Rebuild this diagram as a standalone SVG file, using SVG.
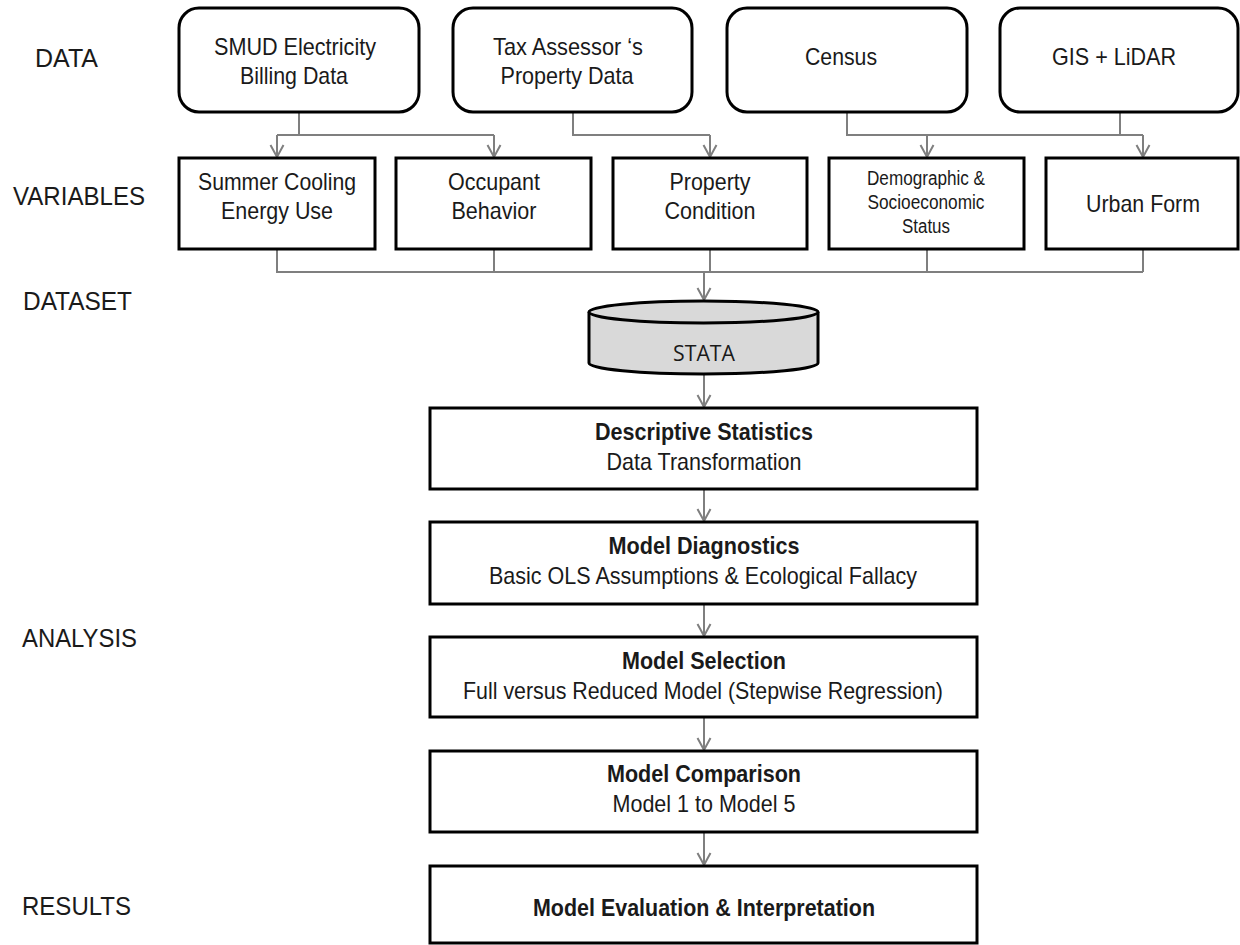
<svg xmlns="http://www.w3.org/2000/svg" width="1240" height="945" viewBox="0 0 1240 945">
<style>
text{font-family:"Liberation Sans",Arial,sans-serif;fill:#1a1a1a;}
.lbl{font-size:26.5px;}
.t{font-size:24px;text-anchor:middle;}
.s{font-size:19.5px;text-anchor:middle;}
.b{font-size:24px;font-weight:bold;text-anchor:middle;}
.rbox{fill:#fff;stroke:#000;stroke-width:3;}
.box{fill:#fff;stroke:#000;stroke-width:3;}
.cn{fill:none;stroke:#7f7f7f;stroke-width:2;}
</style>
<defs>
<marker id="arr" markerUnits="userSpaceOnUse" viewBox="-13 -8 15 16" refX="0" refY="0" markerWidth="15" markerHeight="16" orient="auto">
<path d="M-12,-6.5 L0,0 L-12,6.5" fill="none" stroke="#7f7f7f" stroke-width="2"/>
</marker>
</defs>
<rect width="1240" height="945" fill="#fff"/>
<g id="labels">
<text class="lbl" x="35" y="67" textLength="63" lengthAdjust="spacingAndGlyphs">DATA</text>
<text class="lbl" x="13" y="205" textLength="132" lengthAdjust="spacingAndGlyphs">VARIABLES</text>
<text class="lbl" x="23" y="310" textLength="109" lengthAdjust="spacingAndGlyphs">DATASET</text>
<text class="lbl" x="22" y="647" textLength="115" lengthAdjust="spacingAndGlyphs">ANALYSIS</text>
<text class="lbl" x="22" y="915" textLength="109" lengthAdjust="spacingAndGlyphs">RESULTS</text>
</g>
<g id="connectors">
<path class="cn" d="M299,112 V135 M277,135 H494 M573,112 V135 H710 M847,112 V135 H1143 M1120,112 V135"/>
<path class="cn" d="M277,135 V157" marker-end="url(#arr)"/>
<path class="cn" d="M494,135 V157" marker-end="url(#arr)"/>
<path class="cn" d="M710,135 V157" marker-end="url(#arr)"/>
<path class="cn" d="M927,135 V157" marker-end="url(#arr)"/>
<path class="cn" d="M1143,135 V157" marker-end="url(#arr)"/>
<path class="cn" d="M277,250 V272 H1143 M494,250 V272 M710,250 V272 M927,250 V272 M1143,250 V272"/>
<path class="cn" d="M704,272 V300" marker-end="url(#arr)"/>
<path class="cn" d="M704,375 V407" marker-end="url(#arr)"/>
<path class="cn" d="M704,490 V521" marker-end="url(#arr)"/>
<path class="cn" d="M704,605 V636" marker-end="url(#arr)"/>
<path class="cn" d="M704,718 V750" marker-end="url(#arr)"/>
<path class="cn" d="M704,833 V865" marker-end="url(#arr)"/>
</g>
<g id="smud">
<rect class="rbox" x="179" y="8" width="240" height="104" rx="20"/>
<text class="t" x="295" y="55" textLength="162" lengthAdjust="spacingAndGlyphs">SMUD Electricity</text>
<text class="t" x="294" y="84" textLength="108" lengthAdjust="spacingAndGlyphs">Billing Data</text>
</g>
<g id="tax">
<rect class="rbox" x="453" y="8" width="239" height="104" rx="20"/>
<text class="t" x="568" y="55" textLength="150" lengthAdjust="spacingAndGlyphs">Tax Assessor ‘s</text>
<text class="t" x="567" y="84" textLength="133" lengthAdjust="spacingAndGlyphs">Property Data</text>
</g>
<g id="census">
<rect class="rbox" x="727" y="8" width="240" height="104" rx="20"/>
<text class="t" x="841" y="65" textLength="72" lengthAdjust="spacingAndGlyphs">Census</text>
</g>
<g id="gis">
<rect class="rbox" x="1000" y="8" width="238" height="104" rx="20"/>
<text class="t" x="1114" y="65" textLength="124" lengthAdjust="spacingAndGlyphs">GIS + LiDAR</text>
</g>
<g id="summer">
<rect class="box" x="179" y="158" width="196" height="91"/>
<text class="t" x="277" y="190" textLength="158" lengthAdjust="spacingAndGlyphs">Summer Cooling</text>
<text class="t" x="277" y="219" textLength="112" lengthAdjust="spacingAndGlyphs">Energy Use</text>
</g>
<g id="occupant">
<rect class="box" x="396" y="158" width="195" height="91"/>
<text class="t" x="494" y="190" textLength="92" lengthAdjust="spacingAndGlyphs">Occupant</text>
<text class="t" x="494" y="219" textLength="85" lengthAdjust="spacingAndGlyphs">Behavior</text>
</g>
<g id="property">
<rect class="box" x="613" y="158" width="194" height="91"/>
<text class="t" x="710" y="190" textLength="81" lengthAdjust="spacingAndGlyphs">Property</text>
<text class="t" x="710" y="219" textLength="91" lengthAdjust="spacingAndGlyphs">Condition</text>
</g>
<g id="demographic">
<rect class="box" x="829" y="158" width="195" height="91"/>
<text class="s" x="926" y="185" textLength="118" lengthAdjust="spacingAndGlyphs">Demographic &amp;</text>
<text class="s" x="926" y="209" textLength="117" lengthAdjust="spacingAndGlyphs">Socioeconomic</text>
<text class="s" x="926" y="233" textLength="48" lengthAdjust="spacingAndGlyphs">Status</text>
</g>
<g id="urban">
<rect class="box" x="1046" y="158" width="192" height="91"/>
<text class="t" x="1143" y="212" textLength="114" lengthAdjust="spacingAndGlyphs">Urban Form</text>
</g>
<g id="stata">
<path d="M589,312 V363 A114.5,11 0 0 0 818,363 V312" fill="#d9d9d9" stroke="#000" stroke-width="3"/>
<ellipse cx="703.5" cy="312" rx="114.5" ry="11" fill="#d9d9d9" stroke="#000" stroke-width="3"/>
<text x="704" y="361" textLength="62" lengthAdjust="spacingAndGlyphs" style="font-family:'Open Sans','Liberation Sans',sans-serif;font-size:22px;text-anchor:middle;">STATA</text>
</g>
<g id="descriptive">
<rect class="box" x="430" y="408" width="547" height="81"/>
<text class="b" x="704" y="440" textLength="218" lengthAdjust="spacingAndGlyphs">Descriptive Statistics</text>
<text class="t" x="704" y="470" textLength="195" lengthAdjust="spacingAndGlyphs">Data Transformation</text>
</g>
<g id="diagnostics">
<rect class="box" x="430" y="522" width="547" height="82"/>
<text class="b" x="704" y="554" textLength="191" lengthAdjust="spacingAndGlyphs">Model Diagnostics</text>
<text class="t" x="703" y="584" textLength="428" lengthAdjust="spacingAndGlyphs">Basic OLS Assumptions &amp; Ecological Fallacy</text>
</g>
<g id="selection">
<rect class="box" x="430" y="637" width="547" height="80"/>
<text class="b" x="704" y="669" textLength="164" lengthAdjust="spacingAndGlyphs">Model Selection</text>
<text class="t" x="703" y="699" textLength="480" lengthAdjust="spacingAndGlyphs">Full versus Reduced Model (Stepwise Regression)</text>
</g>
<g id="comparison">
<rect class="box" x="430" y="751" width="547" height="81"/>
<text class="b" x="704" y="782" textLength="194" lengthAdjust="spacingAndGlyphs">Model Comparison</text>
<text class="t" x="704" y="812" textLength="183" lengthAdjust="spacingAndGlyphs">Model 1 to Model 5</text>
</g>
<g id="results">
<rect class="box" x="430" y="866" width="547" height="77"/>
<text class="b" x="704" y="916" textLength="342" lengthAdjust="spacingAndGlyphs">Model Evaluation &amp; Interpretation</text>
</g>
</svg>
